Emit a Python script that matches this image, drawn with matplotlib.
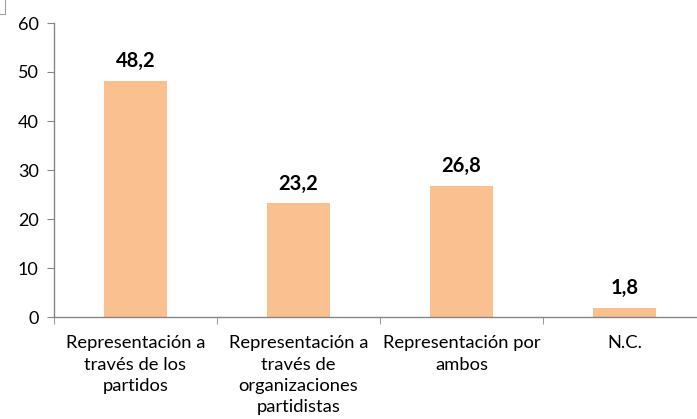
import matplotlib
matplotlib.use("Agg")
import matplotlib.pyplot as plt
from matplotlib.ticker import FixedLocator

categories = [
    "Representación a\ntravés de los\npartidos",
    "Representación a\ntravés de\norganizaciones\npartidistas",
    "Representación por\nambos",
    "N.C.",
]
values = [48.2, 23.2, 26.8, 1.8]
value_labels = ["48,2", "23,2", "26,8", "1,8"]

plt.rcParams["font.family"] = ["Lato", "DejaVu Sans"]

fig = plt.figure(figsize=(6.97, 4.19), dpi=100)
ax = fig.add_axes([54 / 697, 1 - 317 / 419, 652 / 697, 294 / 419])

x = list(range(len(categories)))
bars = ax.bar(x, values, width=0.39, color="#FAC090", zorder=2)

for xi, v, lab in zip(x, values, value_labels):
    ax.text(xi, v + 2.0, lab, ha="center", va="bottom",
            fontsize=14.5, fontweight="bold", color="black")

ax.set_xlim(-0.5, len(categories) - 0.5)
ax.set_ylim(0, 60)
ax.set_yticks(range(0, 61, 10))
ax.tick_params(axis="y", labelsize=13, length=5, color="#868686", pad=6)

ax.set_xticks(x)
ax.set_xticklabels(categories, fontsize=13.2, linespacing=1.42)
ax.tick_params(axis="x", length=0, pad=13)
ax.xaxis.set_minor_locator(FixedLocator([i - 0.5 for i in range(len(categories) + 1)]))
ax.tick_params(axis="x", which="minor", length=5, color="#868686")

for s in ["top", "right"]:
    ax.spines[s].set_visible(False)
for s in ["left", "bottom"]:
    ax.spines[s].set_color("#868686")
    ax.spines[s].set_linewidth(1.0)

# small corner mark at top left of the original image
fig.add_artist(plt.Line2D([0, 5 / 697], [1 - 14 / 419, 1 - 14 / 419],
                          color="#A0A0A0", lw=0.8))
fig.add_artist(plt.Line2D([5 / 697, 5 / 697], [1, 1 - 14 / 419],
                          color="#A0A0A0", lw=0.8))

fig.savefig("out.png", dpi=100, facecolor="white")
